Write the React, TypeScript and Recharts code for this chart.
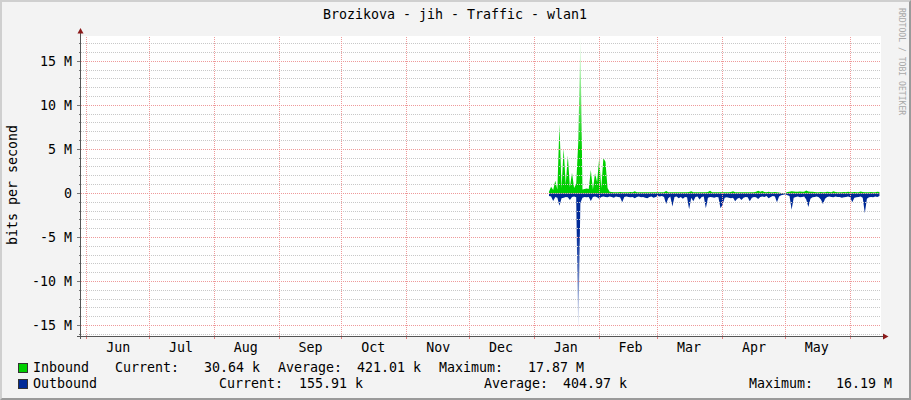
import { ComposedChart, Area, XAxis, YAxis, ReferenceLine } from "recharts";

/* ── Data (M bit/s, one sample per day) ───────────────── */
// day 0 = left edge of the graph (end of May), samples start in early January
const FIRST_DAY = 224;

const inbound = [
	0.2, 0.76, 0.4, 1.44, 0.45, 7.95, 0.6, 5.1, 1.0, 4.3,
	0.7, 2.35, 0.6, 1.06, 5.9, 17.87, 0.45, 0.5, 0.55, 0.5,
	2.65, 0.45, 2.3, 1.3, 4.0, 0.6, 4.0, 3.6, 0.6, 0.2,
	0.15, 0.12, 0.14, 0.12, 0.15, 0.13, 0.12, 0.14, 0.12, 0.15,
	0.13, 0.25, 0.14, 0.12, 0.13, 0.12, 0.14, 0.13, 0.12, 0.14,
	0.12, 0.13, 0.12, 0.14, 0.12, 0.13, 0.28, 0.14, 0.12, 0.13,
	0.12, 0.14, 0.13, 0.12, 0.14, 0.12, 0.13, 0.15, 0.25, 0.13,
	0.12, 0.14, 0.13, 0.12, 0.14, 0.12, 0.15, 0.3, 0.13, 0.12,
	0.14, 0.12, 0.13, 0.12, 0.14, 0.13, 0.12, 0.15, 0.25, 0.13,
	0.12, 0.14, 0.13, 0.12, 0.14, 0.12, 0.13, 0.14, 0.12, 0.18,
	0.3, 0.2, 0.28, 0.15, 0.13, 0.2, 0.14, 0.12, 0.15, 0.12,
	0.1, 0.05, 0.04, 0.05, 0.15, 0.2, 0.25, 0.22, 0.18, 0.2,
	0.22, 0.18, 0.2, 0.32, 0.22, 0.18, 0.2, 0.15, 0.14, 0.13,
	0.15, 0.14, 0.12, 0.18, 0.15, 0.14, 0.25, 0.15, 0.13, 0.14,
	0.12, 0.15, 0.13, 0.2, 0.14, 0.12, 0.15, 0.14, 0.13, 0.22,
	0.15, 0.14, 0.13, 0.12, 0.15, 0.14, 0.13, 0.2, 0.15,
];

const outbound = [
	-0.3, -0.35, -0.85, -0.4, -0.5, -1.4, -0.55, -0.5, -0.4, -0.45,
	-0.75, -0.4, -0.35, -0.45, -16.19, -1.1, -0.5, -0.4, -0.45, -0.4,
	-0.87, -0.4, -0.35, -0.45, -0.6, -0.4, -0.35, -0.4, -0.45, -0.35,
	-0.4, -0.5, -0.35, -0.4, -0.45, -1.0, -0.4, -0.35, -0.4, -0.45,
	-0.4, -0.55, -0.4, -0.35, -0.45, -0.4, -0.5, -0.55, -0.4, -0.35,
	-0.5, -0.4, -0.3, -0.35, -0.3, -0.4, -1.2, -0.55, -0.35, -1.5,
	-0.4, -0.35, -0.55, -0.4, -0.6, -0.4, -0.45, -1.8, -0.5, -0.9,
	-0.4, -0.35, -0.7, -0.4, -0.35, -1.7, -0.5, -0.4, -0.45, -0.5,
	-0.4, -0.45, -1.7, -1.3, -0.5, -0.45, -0.5, -0.55, -0.5, -0.9,
	-0.6, -0.5, -0.75, -0.5, -0.4, -0.45, -0.9, -0.5, -0.4, -0.45,
	-0.65, -0.4, -0.35, -0.4, -0.3, -0.55, -0.4, -0.3, -0.35, -1.0,
	-0.35, -0.2, -0.15, -0.1, -0.2, -0.3, -1.85, -0.5, -0.4, -0.35,
	-0.45, -0.4, -0.35, -0.7, -1.55, -0.6, -0.45, -0.4, -0.35, -0.45,
	-0.7, -1.2, -0.6, -0.4, -0.35, -0.4, -0.45, -0.35, -0.4, -0.4,
	-0.5, -0.45, -0.4, -0.35, -0.45, -1.0, -0.5, -0.45, -0.4, -0.35,
	-0.5, -2.25, -0.6, -0.45, -0.4, -0.45, -0.35, -0.4, -0.3,
];

const monthNames = ["Jun", "Jul", "Aug", "Sep", "Oct", "Nov", "Dec", "Jan", "Feb", "Mar", "Apr", "May"];
const monthStarts = [3, 33, 64, 95, 125, 156, 186, 217, 248, 276, 307, 337, 368];
const monthMids = [18, 48, 79, 110, 140, 171, 201, 232, 263, 291, 322, 352];

const yMajor = [-15, -10, -5, 0, 5, 10, 15];
const yMinor = [-16, -14, -13, -12, -11, -9, -8, -7, -6, -4, -3, -2, -1, 1, 2, 3, 4, 6, 7, 8, 9, 11, 12, 13, 14, 16, 17];

const seriesNames = ["Inbound", "Outbound"];
const seriesColors = ["#00CF00", "#002A97"];
const currentVals = ["30.64 k", "155.91 k"];
const averageVals = ["421.01 k", "404.97 k"];
const maximumVals = ["17.87 M", "16.19 M"];

const TITLE = "Brozikova - jih - Traffic - wlan1";

/* ── Layout ─────────────────────────────────────────── */
const W = 911;
const H = 400;
const FONT = "'DejaVu Sans Mono', monospace";
const FS = 13.3;
const MAJOR = "#ee9a9a";
const MINOR = "#c8c8c8";

// legend columns (left x of each item) for both rows
const legendCols = [
	[33, 115, 204, 278, 357, 439, 528],
	[33, 219, 299, 484, 563, 749, 836],
];
const legendRowTop = [360, 376];

const rows = inbound.map((v, i) => ({
	day: FIRST_DAY + i,
	inbound: v,
	outbound: outbound[i],
}));

const renderYTick = (p: any) => {
	const v = p.payload.value;
	const major = v % 5 === 0;
	return (
		<g>
			<line x1={p.x - (major ? 4 : 2)} x2={p.x} y1={p.y} y2={p.y} stroke="#777" shapeRendering="crispEdges" />
			{major && (
				<text x={p.x - 8.5} y={p.y} dy="0.36em" textAnchor="end" fontFamily={FONT} fontSize={FS} fill="#000">
					{v === 0 ? "0" : `${v} M`}
				</text>
			)}
		</g>
	);
};

const renderXTick = (p: any) => {
	const v = p.payload.value;
	const mid = monthMids.indexOf(v);
	if (mid < 0) {
		return <line x1={p.x} x2={p.x} y1={p.y + 1} y2={p.y + 3} stroke="#e08080" shapeRendering="crispEdges" />;
	}
	return (
		<text x={p.x} y={p.y + 11} dy="0.36em" textAnchor="middle" fontFamily={FONT} fontSize={FS} fill="#000">
			{monthNames[mid]}
		</text>
	);
};

export default function App() {
	return (
		<div style={{ position: "absolute", left: 0, top: 0, width: W, height: H, background: "#F3F3F3", fontFamily: FONT }}>
			{/* plot background */}
			<div style={{ position: "absolute", left: 81, top: 36, width: 800, height: 300, background: "#fff" }} />

			<div style={{ position: "absolute", left: 0, top: 0 }}>
				<ComposedChart width={W} height={H} data={rows} margin={{ top: 36, right: 30.5, left: 0, bottom: 0 }}>
					<defs>
						<linearGradient id="gIn" x1="0" y1="1" x2="0" y2="0">
							<stop offset="0" stopColor={seriesColors[0]} stopOpacity={1} />
							<stop offset="0.28" stopColor={seriesColors[0]} stopOpacity={1} />
							<stop offset="1" stopColor={seriesColors[0]} stopOpacity={0.03} />
						</linearGradient>
						<linearGradient id="gOut" x1="0" y1="0" x2="0" y2="1">
							<stop offset="0" stopColor={seriesColors[1]} stopOpacity={1} />
							<stop offset="0.28" stopColor={seriesColors[1]} stopOpacity={1} />
							<stop offset="1" stopColor={seriesColors[1]} stopOpacity={0.03} />
						</linearGradient>
					</defs>
					<XAxis
						dataKey="day"
						type="number"
						domain={[0, 382.5]}
						allowDataOverflow
						ticks={[...monthStarts, ...monthMids]}
						interval={0}
						tick={renderXTick}
						tickLine={false}
						tickSize={0}
						tickMargin={0}
						axisLine={false}
						height={64}
					/>
					<YAxis
						type="number"
						domain={[-16.19, 17.87]}
						allowDataOverflow
						ticks={[...yMinor, ...yMajor].sort((a, b) => a - b)}
						interval={0}
						tick={renderYTick}
						tickLine={false}
						tickSize={0}
						tickMargin={0}
						axisLine={false}
						width={80.5}
					/>
					{yMinor.map((v) => (
						<ReferenceLine key={`mi${v}`} y={v} stroke={MINOR} strokeDasharray="1 1" shapeRendering="crispEdges" />
					))}
					{yMajor.map((v) => (
						<ReferenceLine key={`ma${v}`} y={v} stroke={MAJOR} strokeDasharray="1 1" shapeRendering="crispEdges" />
					))}
					{monthStarts.map((d) => (
						<ReferenceLine key={`m${d}`} x={d} stroke={MAJOR} strokeDasharray="1 1" shapeRendering="crispEdges" />
					))}
					<Area
						dataKey="inbound"
						type="linear"
						baseValue={0}
						stroke="none"
						fill="url(#gIn)"
						fillOpacity={1}
						dot={false}
						activeDot={false}
						isAnimationActive={false}
					/>
					<Area
						dataKey="outbound"
						type="linear"
						baseValue={0}
						stroke="none"
						fill="url(#gOut)"
						fillOpacity={1}
						dot={false}
						activeDot={false}
						isAnimationActive={false}
					/>
				</ComposedChart>
			</div>

			{/* axes with arrows */}
			<svg width={W} height={H} style={{ position: "absolute", left: 0, top: 0, pointerEvents: "none" }}>
				<line x1={80.5} y1={339} x2={80.5} y2={32} stroke="#555" />
				<line x1={77} y1={336.5} x2={884} y2={336.5} stroke="#555" />
				<polygon points="77.5,33.5 83.5,33.5 80.5,28" fill="#8b1a1a" />
				<polygon points="883,333.5 883,339.5 888.5,336.5" fill="#8b1a1a" />
				<text x={455} y={14} dy="0.36em" textAnchor="middle" fontFamily={FONT} fontSize={FS} fill="#000">
					{TITLE}
				</text>
				<text
					transform="translate(12 185) rotate(-90)"
					dy="0.36em"
					textAnchor="middle"
					fontFamily={FONT}
					fontSize={FS}
					fill="#000"
				>
					bits per second
				</text>
				<text
					transform="translate(902 8) rotate(90)"
					dy="0.36em"
					textAnchor="start"
					fontFamily={FONT}
					fontSize={8.1}
					fill="#a8a8a8"
				>
					RRDTOOL / TOBI OETIKER
				</text>
			</svg>

			{/* legend */}
			{seriesNames.map((name, r) => {
				const texts = [name, "Current:", currentVals[r], "Average:", averageVals[r], "Maximum:", maximumVals[r]];
				return (
					<div key={name}>
						<div
							style={{
								position: "absolute",
								left: 18,
								top: legendRowTop[r] + 3,
								width: 8,
								height: 8,
								background: seriesColors[r],
								border: "1px solid #333",
							}}
						/>
						{texts.map((t, c) => (
							<span
								key={c}
								style={{
									position: "absolute",
									left: legendCols[r][c],
									top: legendRowTop[r],
									fontSize: FS,
									lineHeight: "16px",
									whiteSpace: "pre",
									color: "#000",
								}}
							>
								{t}
							</span>
						))}
					</div>
				);
			})}

			{/* 3d frame */}
			<div
				style={{
					position: "absolute",
					left: 0,
					top: 0,
					width: W,
					height: H,
					boxSizing: "border-box",
					borderTop: "2px solid #cfcfcf",
					borderLeft: "2px solid #cfcfcf",
					borderRight: "2px solid #9a9a9a",
					borderBottom: "2px solid #9a9a9a",
					pointerEvents: "none",
				}}
			/>
		</div>
	);
}
